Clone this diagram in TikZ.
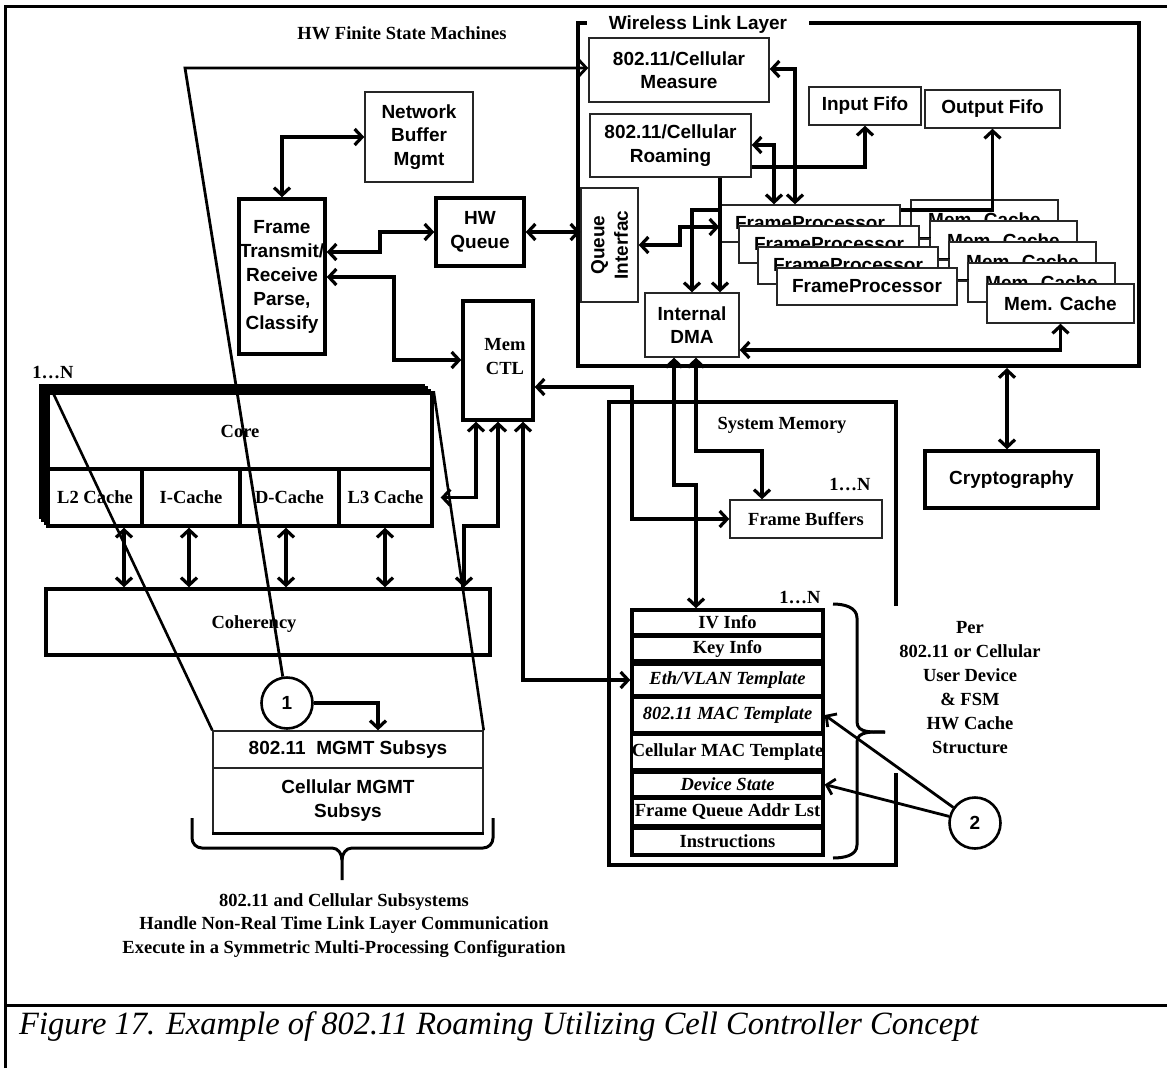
\documentclass[tikz,border=0pt]{standalone}
\usepackage{fontspec}
\setmainfont{Liberation Serif}
\setsansfont{Liberation Sans}
\usetikzlibrary{arrows.meta}
\begin{document}
\begin{tikzpicture}[x=1pt,y=-1pt,
  sftext/.style={font=\sffamily\bfseries\fontsize{19}{23.5}\selectfont, align=center},
  rmtext/.style={font=\rmfamily\bfseries\fontsize{18.5}{24}\selectfont, align=center},
  rmitext/.style={font=\rmfamily\bfseries\itshape\fontsize{18.5}{24}\selectfont, align=center},
  thinbox/.style={draw=black!85, line width=1.4pt, fill=white, inner sep=0pt},
  thickbox/.style={draw, line width=3.4pt, fill=white, inner sep=0pt},
  rowbox/.style={thickbox, minimum width=191pt},
  cn/.style={line width=3.2pt},
  one/.style={cn, -{Straight Barb[length=7.5pt,width=16pt]}},
  two/.style={cn, {Straight Barb[length=7.5pt,width=16pt]}-{Straight Barb[length=7.5pt,width=16pt]}},
  slant/.style={line width=2.6pt},
  circ/.style={circle, draw, line width=2.6pt, fill=white, inner sep=0pt, minimum size=51pt, font=\sffamily\bfseries\fontsize{19}{23}\selectfont},
  brace/.style={line width=3pt},
]
\fill[white] (0,0) rectangle (1167,1068);
\useasboundingbox (0,0) rectangle (1167,1068);

% outer frame
\draw[line width=3pt] (5,1068) -- (5,6) -- (1167,6);
\draw[line width=3pt] (5,1005) -- (1167,1005);
\node[font=\rmfamily\itshape\fontsize{32.5}{38}\selectfont, anchor=west, inner sep=0pt] (cap) at (19,1027) {Figure 17. Example of 802.11 Roaming Utilizing Cell Controller Concept};

\node[rmtext] (hwfsm) at (402,33) {HW Finite State Machines};

% Wireless link layer
\node[draw, line width=4pt, minimum width=561pt, minimum height=343pt, inner sep=0pt] (wll) at (858.5,194.5) {};
\node[fill=white, sftext, minimum width=222pt, minimum height=22pt, inner sep=0pt] (wlltitle) at (698,25) {Wireless Link Layer};
\node[thinbox, sftext, minimum width=180pt, minimum height=64pt] (meas) at (679,70) {802.11/Cellular\\Measure};
\node[thinbox, sftext, minimum width=161pt, minimum height=63pt] (roam) at (670.5,145.5) {802.11/Cellular\\Roaming};
\node[thinbox, sftext, minimum width=112pt, minimum height=38pt] (infifo) at (865,106) {Input Fifo};
\node[thinbox, sftext, minimum width=135pt, minimum height=38pt] (outfifo) at (992.5,109) {Output Fifo};
\node[thinbox, minimum width=57pt, minimum height=114pt, label={[sftext, rotate=90]center:Queue\\Interfac}] (qi) at (609.5,245) {};
\node[thinbox, sftext, minimum width=94pt, minimum height=64pt] (dma) at (692,325) {Internal\\DMA};

\foreach \k in {0,...,4}
  \node[thinbox, sftext, minimum width=147pt, minimum height=39pt] (mc\k) at ({984.5+19*\k},{219.5+21*\k}) {Mem. Cache};
\draw[two] (dma.north) |- (outfifo.south |- 0,210) -- (outfifo.south);
\foreach \k in {0,...,3}
  \node[thinbox, sftext, minimum width=180pt, minimum height=37pt] (fp\k) at ({810+19*\k},{223.5+21*\k}) {FrameProcessor};
\foreach \k in {1,2,3}
  \draw[line width=1.2pt] ([yshift=-12pt]fp\k.north east) -- ++(11,0);

\draw[two] (meas.east |- 0,69) -| (fp0.north -| 795,0);
\draw[two] (roam.east |- 0,145) -| (fp0.north -| 774,0);
\draw[one] (roam.east |- 0,167) -| (infifo.south);
\draw[one] (roam.south -| 720,0) -- (dma.north -| 720,0);
\draw[two] (qi.east) -| (680,227) -- (fp0.west |- 0,227);
\draw[two] (dma.east |- 0,350) -| (mc4.south);

% left side FSM blocks
\node[thinbox, sftext, minimum width=108pt, minimum height=90pt] (nbm) at (419,137) {Network\\Buffer\\Mgmt};
\node[thickbox, sftext, minimum width=86pt, minimum height=155pt, font=\sffamily\bfseries\fontsize{19}{24}\selectfont] (frame) at (282,276.5) {Frame\\Transmit/\\Receive\\Parse,\\Classify};
\node[thickbox, sftext, minimum width=88pt, minimum height=68pt] (hwq) at (480,232) {HW\\Queue};
\node[thickbox, minimum width=70pt, minimum height=119pt] (memctl) at (498,360.5) {};
\node[rmtext] (memctltxt) at (505,357) {Mem\\CTL};

\draw[two] (frame.north) |- (nbm.west);
\draw[two] (frame.east |- 0,252) -| (380,232) -- (hwq.west);
\draw[two] (frame.east |- 0,277) -| (394,360) -- (memctl.west |- 0,360);
\draw[two] (hwq.east) -- (qi.west |- hwq.east);

% crypto
\node[thickbox, sftext, minimum width=173pt, minimum height=57pt] (crypto) at (1011.5,479.5) {Cryptography};
\draw[two] (wll.south -| 1007,0) -- (crypto.north -| 1007,0);

% system memory
\draw[line width=3.4pt] (896,606) -- (896,402) -- (609,402) -- (609,865) -- (896,865) -- (896,773);
\node[rmtext] (smtitle) at (782,425) {System Memory};
\node[rmtext] (fbn) at (850,485) {1…N};
\node[thinbox, rmtext, minimum width=152pt, minimum height=38pt] (fb) at (806,519) {Frame Buffers};
\node[rmtext] (cachen) at (800,598) {1…N};
\node[rowbox, rmtext, minimum height=25pt] (iv) at (727.5,622.5) {IV Info};
\node[rowbox, rmtext, minimum height=25pt] (key) at (727.5,648.5) {Key Info};
\node[rowbox, rmitext, minimum height=32pt] (eth) at (727.5,680) {Eth/VLAN Template};
\node[rowbox, rmitext, minimum height=36pt] (mac) at (727.5,715) {802.11 MAC Template};
\node[rowbox, rmtext, minimum height=36pt] (cell) at (727.5,752) {Cellular MAC Template};
\node[rowbox, rmitext, minimum height=25pt] (dev) at (727.5,784.5) {Device State};
\node[rowbox, rmtext, minimum height=28pt] (fqal) at (727.5,812) {Frame Queue Addr Lst};
\node[rowbox, rmtext, minimum height=27pt] (instr) at (727.5,841.5) {Instructions};

\draw[brace] (833,604) to[out=0,in=90] (857,618) -- (857,722) to[out=-90,in=180] (885,732);
\draw[brace] (885,732) to[out=180,in=90] (857,742) -- (857,845) to[out=-90,in=0] (833,858);
\node[rmtext] (per) at (970,687.5) {Per\\802.11 or Cellular\\User Device\\\& FSM\\HW Cache\\Structure};

\node[circ] (c2) at (975,823) {2};
\draw[one, line width=2.8pt] (c2) -- (mac.east);
\draw[one, line width=2.8pt] (c2) -- (dev.east);

\draw[two] (dma.south -| 674,0) -- (674,485) -| (iv.north -| 696,0);
\draw[two] (dma.south -| 696,0) -- (696,451) -| (fb.north -| 762,0);
\draw[two] (memctl.east |- 0,387) -| (632,519) -- (fb.west);

% cores
\foreach \k in {3,2,1}
  \draw[line width=2.6pt, fill=white] ({48-2.7*\k},{393-2.7*\k}) rectangle ({432-2.7*\k},{526-2.7*\k});
\node[rmtext] (coresn) at (53,373) {1…N};
\node[thickbox, rmtext, minimum width=384pt, minimum height=76pt] (core) at (240,431) {Core};
\node[thickbox, rmtext, minimum width=94pt, minimum height=57pt] (l2) at (95,497.5) {L2 Cache};
\node[thickbox, rmtext, minimum width=98pt, minimum height=57pt] (ic) at (191,497.5) {I-Cache};
\node[thickbox, rmtext, minimum width=99pt, minimum height=57pt] (dc) at (289.5,497.5) {D-Cache};
\node[thickbox, rmtext, minimum width=93pt, minimum height=57pt] (l3) at (385.5,497.5) {L3 Cache};
\node[thickbox, minimum width=444pt, minimum height=66pt] (coh) at (268,622) {};
\node[rmtext] (cohtxt) at (254,624) {Coherency};

\draw[two] (l2.south -| 124,0) -- (coh.north -| 124,0);
\draw[two] (ic.south -| 189,0) -- (coh.north -| 189,0);
\draw[two] (dc.south -| 286,0) -- (coh.north -| 286,0);
\draw[two] (l3.south -| 385,0) -- (coh.north -| 385,0);

\draw[two] (memctl.south -| 476,0) |- ([xshift=7pt]l3.east);
\draw[two] (memctl.south -| 498,0) -- (498,526) -- (464,526) -- (coh.north -| 464,0);
\draw[two] (memctl.south -| 523,0) |- (eth.west);

% management subsystems
\node[thinbox, sftext, minimum width=270pt, minimum height=37pt] (mgmt1) at (348,749.5) {802.11\ \ MGMT Subsys};
\node[thinbox, sftext, minimum width=270pt, minimum height=65pt] (mgmt2) at (348,800.5) {Cellular MGMT\\Subsys};
\draw[line width=2.6pt] (mgmt2.south west) -- (mgmt2.south east);

\draw[slant] ([xshift=6pt]core.north west) -- (mgmt1.north west);
\draw[slant] (core.north east) -- (mgmt1.north east);

\node[circ] (c1) at (287,703) {1};
\draw[one, line width=2.8pt] (c1) -- (185,68) -- (meas.west |- 0,68);
\draw[one] (c1.east) -| (mgmt1.north -| 378,0);

\draw[brace] (192,818) -- (192,838) to[out=-90,in=180] (202,848) -- (332,848) to[out=0,in=90] (342,860) -- (342,880);
\draw[brace] (342,860) to[out=90,in=180] (352,848) -- (483,848) to[out=0,in=-90] (493,838) -- (493,818);
\node[rmtext, font=\rmfamily\bfseries\fontsize{18.5}{23.5}\selectfont] (subtext) at (344,925.5) {802.11 and Cellular Subsystems\\Handle Non-Real Time Link Layer Communication\\Execute in a Symmetric Multi-Processing Configuration};
\end{tikzpicture}
\end{document}
